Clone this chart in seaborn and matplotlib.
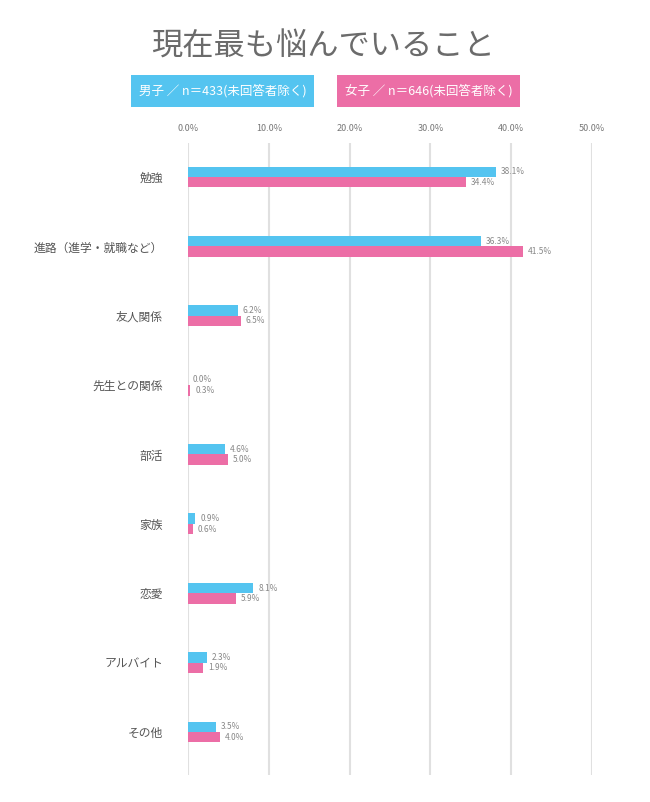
import matplotlib
matplotlib.use("Agg")
import matplotlib.pyplot as plt
import seaborn as sns
import pandas as pd
from matplotlib.patches import Rectangle

categories = ["勉強", "進路（進学・就職など）", "友人関係", "先生との関係", "部活", "家族", "恋愛", "アルバイト", "その他"]
male = [38.1, 36.3, 6.2, 0.0, 4.6, 0.9, 8.1, 2.3, 3.5]
female = [34.4, 41.5, 6.5, 0.3, 5.0, 0.6, 5.9, 1.9, 4.0]
series = ["男子 ／ n＝433(未回答者除く)", "女子 ／ n＝646(未回答者除く)"]
xticks = [0, 10, 20, 30, 40, 50]
title = "現在最も悩んでいること"

blue = "#54c4f0"
pink = "#ec6ea6"

sns.set_theme(style="white")
plt.rcParams["font.family"] = ["Noto Sans CJK JP", "DejaVu Sans"]

df = pd.DataFrame({
    "cat": categories * 2,
    "val": male + female,
    "grp": [series[0]] * len(categories) + [series[1]] * len(categories),
})

fig = plt.figure(figsize=(6.5, 8.02), dpi=100)
ax = fig.add_axes([188 / 650, 1 - 775 / 802, 404 / 650, 632 / 802])

sns.barplot(data=df, y="cat", x="val", hue="grp", order=categories,
            hue_order=series, palette=[blue, pink], width=0.3,
            orient="h", ax=ax, legend=False, saturation=1, linewidth=0)

ax.set_xlim(0, 50)
ax.set_ylim(8.62, -0.49)
ax.set_xticks(xticks)
ax.set_xticklabels([f"{t:.1f}%" for t in xticks])
ax.xaxis.tick_top()
ax.tick_params(axis="x", length=0, pad=7, labelsize=6.5, labelcolor="#777777")
ax.tick_params(axis="y", length=0, pad=18, labelsize=8.5, labelcolor="#555555")
ax.set_xlabel("")
ax.set_ylabel("")
for s in ax.spines.values():
    s.set_visible(False)
ax.grid(axis="x", color="#e0e0e0", linewidth=1.5)
ax.set_axisbelow(True)

for container, vals in zip(ax.containers, [male, female]):
    for bar, v in zip(container, vals):
        y = bar.get_y() + bar.get_height() / 2
        ax.annotate(f"{v:.1f}%", (bar.get_width(), y), xytext=(3.5, 0),
                    textcoords="offset points", va="center", ha="left",
                    fontsize=6, color="#888888")

fig.text(323 / 650, 1 - 47 / 802, title, ha="center", va="center",
         fontsize=22.5, color="#6b6b6b")

for x0, col, lab in [(131, blue, series[0]), (337, pink, series[1])]:
    fig.patches.append(Rectangle((x0 / 650, 1 - 107 / 802), 183 / 650, 32 / 802,
                                 transform=fig.transFigure, facecolor=col,
                                 edgecolor="none"))
    fig.text((x0 + 91.5) / 650, 1 - 91 / 802, lab, ha="center", va="center",
             fontsize=9, color="white")

fig.savefig("out.png", dpi=100)
